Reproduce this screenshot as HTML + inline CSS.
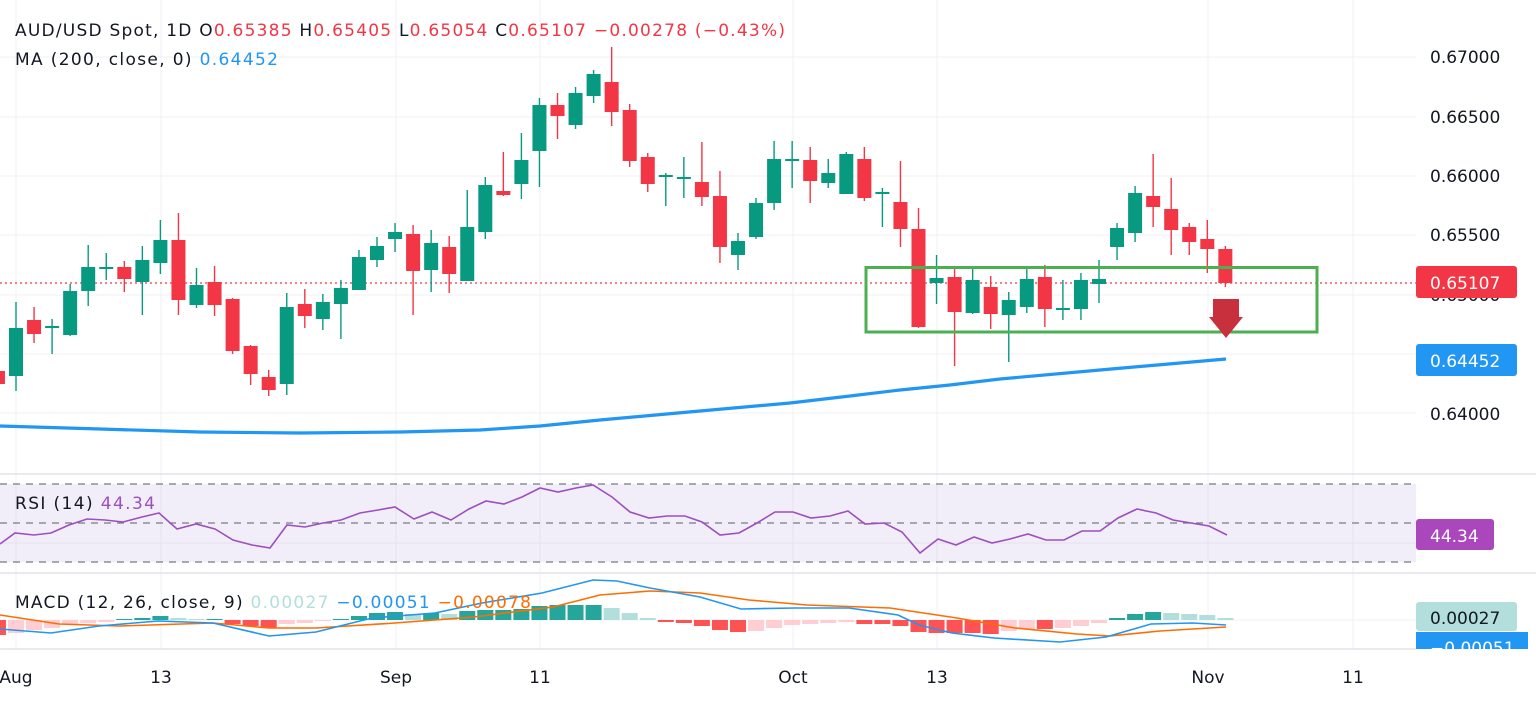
<!DOCTYPE html>
<html><head><meta charset="utf-8"><style>
html,body{margin:0;padding:0;background:#fff;}
svg{display:block;font-family:"DejaVu Sans","Liberation Sans",sans-serif;}
</style></head><body>
<svg id="s" width="1536" height="701" viewBox="0 0 1536 701" xmlns="http://www.w3.org/2000/svg">
<rect width="1536" height="701" fill="#fff"/>
<g stroke="#f0f1f4" stroke-width="1">
<line x1="0" y1="57" x2="1416" y2="57"/><line x1="0" y1="117" x2="1416" y2="117"/>
<line x1="0" y1="176" x2="1416" y2="176"/><line x1="0" y1="235" x2="1416" y2="235"/>
<line x1="0" y1="295" x2="1416" y2="295"/><line x1="0" y1="354" x2="1416" y2="354"/>
<line x1="0" y1="413" x2="1416" y2="413"/>
<line x1="0" y1="543" x2="1416" y2="543"/><line x1="0" y1="620" x2="1416" y2="620"/>
<line x1="16" y1="0" x2="16" y2="649"/><line x1="161" y1="0" x2="161" y2="649"/>
<line x1="396" y1="0" x2="396" y2="649"/><line x1="540" y1="0" x2="540" y2="649"/>
<line x1="793" y1="0" x2="793" y2="649"/><line x1="937" y1="0" x2="937" y2="649"/>
<line x1="1208" y1="0" x2="1208" y2="649"/><line x1="1353" y1="0" x2="1353" y2="649"/>
</g>
<g stroke="#e0e3eb" stroke-width="1.5">
<line x1="0" y1="474" x2="1536" y2="474"/><line x1="0" y1="573" x2="1536" y2="573"/>
<line x1="0" y1="649" x2="1416" y2="649"/>
</g>
<!-- RSI -->
<rect x="0" y="484" width="1416" height="78" fill="#7e57c2" fill-opacity="0.1"/>
<g stroke="#787b86" stroke-width="1.3" stroke-dasharray="7,6">
<line x1="0" y1="484" x2="1416" y2="484"/><line x1="0" y1="523" x2="1416" y2="523"/><line x1="0" y1="562" x2="1416" y2="562"/>
</g>
<polyline fill="none" stroke="#9c4fbd" stroke-width="1.6" points="0,544 15,533 34,535 51,533 69,525 87,519 105,520 123,522 142,517 159,513 177,529 196,524 215,529 233,540 252,545 270,548 287,525 305,527 323,523 341,520 360,513 378,510 395,507 414,519 432,512 451,520 469,509 486,501 504,504 522,497 540,488 558,492 576,488 593,485 612,497 630,512 649,518 667,516 685,516 702,522 720,535 739,533 757,523 775,512 793,512 811,518 830,516 848,511 865,524 884,523 902,532 920,553 938,539 956,545 974,537 992,543 1010,539 1028,534 1046,540 1064,540 1082,531 1100,531 1118,518 1137,509 1156,513 1173,520 1191,523 1209,526 1227,535"/>
<g id="hist"></g>
<polyline fill="none" stroke="#ff6d00" stroke-width="1.6" points="0,615 59,624 119,626 213,623 269,628 316,628 395,623 474,617 553,607 600,595 650,591 700,593 749,600 807,605 890,608 957,618 1015,628 1077,634 1110,636 1160,631 1226,627"/>
<polyline fill="none" stroke="#2196f3" stroke-width="1.6" points="0,629 51,633 99,626 158,621 213,623 269,636 316,632 372,618 435,613 482,603 542,593 593,580 617,581 650,588 700,597 741,609 795,608 849,608 898,615 919,625 952,633 994,638 1060,642 1106,637 1151,624 1193,623 1226,625"/>
<!-- price -->
<line x1="0" y1="283" x2="1416" y2="283" stroke="#f23645" stroke-width="1.2" stroke-dasharray="2,3"/>
<g id="candles"></g>
<path d="M0,426 L100,429 L200,432 L300,433 L400,432 L480,430 L540,426 L600,420 L700,411 L790,403 L850,396 L900,390 L950,385 L1000,379 L1100,370 L1226,359" fill="none" stroke="#2196f3" stroke-width="3.2"/>
<rect x="866" y="267.5" width="451" height="64.5" fill="none" stroke="#4caf50" stroke-width="3"/>
<path d="M1213,299 L1239,299 L1239,317 L1243,317 L1226,338 L1209,317 L1213,317 Z" fill="#c9303e"/>
<!-- legend -->
<text x="15" y="36" font-size="17" fill="#131722" textLength="770" lengthAdjust="spacing">AUD/USD Spot, 1D  <tspan>O</tspan><tspan fill="#f23645">0.65385</tspan>  H<tspan fill="#f23645">0.65405</tspan>  L<tspan fill="#f23645">0.65054</tspan>  C<tspan fill="#f23645">0.65107</tspan>  <tspan fill="#f23645">−0.00278 (−0.43%)</tspan></text>
<text x="15" y="65" font-size="17" fill="#131722" textLength="263" lengthAdjust="spacing">MA (200, close, 0)  <tspan fill="#2196f3">0.64452</tspan></text>
<text x="15" y="509" font-size="17" fill="#131722" textLength="140" lengthAdjust="spacing">RSI (14)  <tspan fill="#9c4fbd">44.34</tspan></text>
<text x="15" y="608" font-size="17" fill="#131722" textLength="516" lengthAdjust="spacing">MACD (12, 26, close, 9)  <tspan fill="#b2dfdb">0.00027</tspan>  <tspan fill="#2196f3">−0.00051</tspan>  <tspan fill="#ff6d00">−0.00078</tspan></text>
<!-- right axis -->
<g font-size="17" fill="#131722">
<text x="1430" y="63">0.67000</text><text x="1430" y="123">0.66500</text>
<text x="1430" y="182">0.66000</text><text x="1430" y="241">0.65500</text>
<text x="1430" y="301">0.65000</text><text x="1430" y="420">0.64000</text>
</g>
<rect x="1416" y="266" width="101" height="32" rx="3" fill="#f23645"/>
<text x="1430" y="289" font-size="17" fill="#fff">0.65107</text>
<rect x="1416" y="344" width="101" height="32" rx="3" fill="#2196f3"/>
<text x="1430" y="367" font-size="17" fill="#fff">0.64452</text>
<rect x="1416" y="519" width="78" height="31" rx="3" fill="#ab47bc"/>
<text x="1430" y="542" font-size="17" fill="#fff">44.34</text>
<rect x="1416" y="602" width="101" height="29" rx="3" fill="#b2dfdb"/>
<text x="1430" y="624" font-size="17" fill="#131722">0.00027</text>
<rect x="1416" y="632" width="112" height="17" fill="#2196f3"/>
<text x="1430" y="654" font-size="17" fill="#fff">−0.00051</text>
<rect x="0" y="650" width="1536" height="51" fill="#fff"/>
<g font-size="17" fill="#131722" text-anchor="middle">
<text x="16" y="683">Aug</text><text x="161" y="683">13</text><text x="396" y="683">Sep</text>
<text x="540" y="683">11</text><text x="793" y="683">Oct</text><text x="937" y="683">13</text>
<text x="1208" y="683">Nov</text><text x="1353" y="683">11</text>
</g>
</svg>
<script>
var NS="http://www.w3.org/2000/svg";
var C=[["r",371,384,368,390],["g",328,376,302,391],["r",320,334,307,343],["g",326,328,319,354],["g",291,335,284,336],["g",267,291,245,306],["g",267,269,253,280],["r",267,279,261,292],["g",260,282,246,315],["g",240,263,220,274],["r",240,300,213,315],["g",285,305,268,308],["r",282,305,266,316],["r",299,351,298,354],["r",346,374,345,385],["r",377,390,370,396],["g",307,384,293,395],["r",304,316,289,328],["g",302,319,294,330],["g",288,304,280,339],["g",257,290,250,290],["g",246,260,237,267],["g",232,239,223,252],["r",234,271,225,315],["g",243,270,230,292],["r",247,274,236,293],["g",227,281,190,281],["g",185,232,177,239],["r",191,195,152,196],["g",160,184,133,199],["g",105,151,98,187],["r",105,116,93,139],["g",93,125,87,129],["g",74,96,70,103],["r",82,112,47,126],["r",110,161,104,167],["r",157,184,153,192],["g",175,177,173,206],["g",177,179,157,198],["r",182,197,142,206],["r",196,247,171,263],["g",241,255,233,270],["g",203,237,198,239],["g",159,203,141,210],["g",159,161,141,188],["r",160,181,147,203],["g",173,183,159,188],["g",154,194,152,194],["r",159,198,147,201],["g",192,194,188,227],["r",202,229,161,247],["r",229,327,208,328],["g",278,283,255,304],["r",277,312,269,366],["g",280,313,267,314],["r",287,314,276,329],["g",300,315,292,362],["g",279,307,269,313],["r",277,309,265,327],["g",308,310,280,320],["g",280,309,273,320],["g",279,284,260,303],["g",228,247,223,260],["g",193,233,186,242],["r",196,207,154,227],["r",209,230,178,255],["r",227,242,223,255],["r",239,249,220,273],["r",249,283,246,287]];
var H=[-15,-13,-10,-8,-4,-3,-2,1,2,4,2,1,1,-4,-6,-8,-4,-3,-1,1,4,7,8,6,7,6,9,10,10,11,14,15,15,15,12,7,2,-2,-3,-6,-10,-12,-11,-8,-5,-4,-3,-2,-4,-4,-6,-12,-13,-13,-13,-14,-11,-9,-9,-8,-6,-3,2,6,8,7,6,5,2];
var cg=document.getElementById("candles"),hg=document.getElementById("hist");
function el(t,a,p){var e=document.createElementNS(NS,t);for(var k in a)e.setAttribute(k,a[k]);p.appendChild(e);}
for(var i=0;i<C.length;i++){var c=C[i],x=16+(i-1)*18.05,col=c[0]=="g"?"#089981":"#f23645";
el("line",{x1:x,x2:x,y1:c[3],y2:c[4],stroke:col,"stroke-width":1.4},cg);
el("rect",{x:x-7,y:c[1],width:14,height:Math.max(2,c[2]-c[1]),fill:col},cg);}
for(var i=0;i<H.length;i++){var h=H[i],x=16+(i-1)*18.05,p=i>0?H[i-1]:h,col;
if(h>=0)col=(h>=p)?"#26a69a":"#b2dfdb";else col=(h<=p)?"#ff5252":"#ffcdd2";
el("rect",{x:x-8,y:h>=0?620-h:620,width:16,height:Math.max(1,Math.abs(h)),fill:col},hg);}
</script>
</body></html>
